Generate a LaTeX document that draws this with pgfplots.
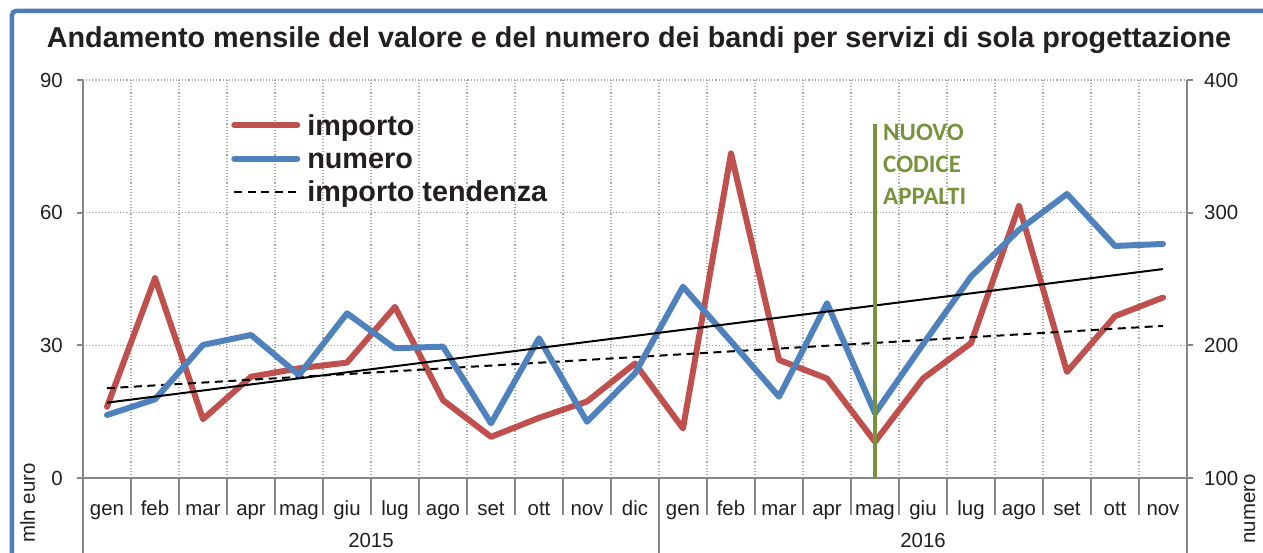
\documentclass[border=0pt]{standalone}
\usepackage{fontspec}
\setmainfont{Liberation Sans}
\newfontfamily\carlito{Carlito}
\usepackage{pgfplots}
\pgfplotsset{compat=1.18}
\definecolor{cRed}{HTML}{C0504D}
\definecolor{cBlue}{HTML}{4F81BD}
\definecolor{cGreen}{HTML}{77933C}
\definecolor{cText}{HTML}{231F20}
\definecolor{cAxis}{HTML}{868686}
\definecolor{cGrid}{HTML}{A6A6A6}
\definecolor{cFrame}{HTML}{4A7EBB}
\newcommand\ticksize{\fontsize{20.4}{24}\selectfont}
\pgfplotstableread{
x importo
0 16.1
1 45.2
2 13.3
3 22.9
4 24.8
5 26.1
6 38.7
7 17.6
8 9.3
9 13.6
10 17.3
11 25.9
12 11.2
13 73.4
14 26.7
15 22.5
16 8.2
17 22.5
18 30.5
19 61.5
20 24.0
21 36.6
22 40.8
}\importodata
\pgfplotstableread{
x numero
0 147.5
1 159.3
2 200.3
3 207.8
4 177.6
5 224.1
6 197.8
7 199.0
8 141.2
9 205.3
10 142.4
11 178.9
12 244.2
13 203.0
14 161.3
15 231.7
16 148.8
17 200.8
18 251.8
19 287.0
20 314.1
21 274.9
22 276.4
}\numerodata
\begin{document}
\begin{tikzpicture}[x=1pt,y=1pt]
\useasboundingbox (-83,-74) rectangle (1180,478);
% frame
\draw[cFrame, line width=4.5pt, rounded corners=4pt] (-71,-80) -- (-71,467) -- (1190,467);
\pgfplotsset{
  common/.style={
    at={(0,0)}, anchor=south west, scale only axis,
    width=1104pt, height=398pt,
    xmin=-0.5, xmax=22.5,
    axis line style={cAxis, line width=2.2pt},
    tick align=outside,
    major tick length=6pt,
    ytick style={cAxis, line width=2pt},
    xtick style={draw=none},
    ticklabel style={font=\ticksize, text=cText},
    /pgf/number format/assume math mode=true,
    clip=false,
  }
}
\begin{axis}[common,
  ymin=0, ymax=90,
  axis x line*=bottom, axis y line*=left,
  xtick={0,...,22},
  xticklabels={gen,feb,mar,apr,mag,giu,lug,ago,set,ott,nov,dic,gen,feb,mar,apr,mag,giu,lug,ago,set,ott,nov},
  xticklabel style={anchor=base, inner sep=0pt, yshift=-31pt},
  minor xtick={-0.5,0.5,...,22.5},
  xminorgrids,
  ytick={0,30,60,90},
  ymajorgrids,
  yticklabel style={anchor=east, inner sep=0pt, xshift=-14pt},
  grid style={cGrid, line width=1.1pt, dash pattern=on 1.1pt off 2pt},
  minor grid style={cGrid, line width=1.1pt, dash pattern=on 1.1pt off 2pt},
  legend cell align=left,
  legend style={at={(0.1314,0.917)}, anchor=north west, draw=none, fill=none,
    inner sep=0pt, row sep=4.3pt, column sep=4pt,
    font=\fontsize{28.8}{34}\selectfont\bfseries, text=cText,
    nodes={inner sep=0pt, text height=22pt, text depth=7pt}},
  legend image code/.code={\path (0pt,0pt) (69pt,0pt); \draw[#1] (3pt,2.5pt) -- (66pt,2.5pt);},
]
\addplot[cRed, line width=6pt, line join=round, line cap=round] table[x=x,y=importo]{\importodata};
\addlegendentry{importo}
\addlegendimage{cBlue, line width=6pt, line cap=round}
\addlegendentry{numero}
\addplot[black, line width=2pt, dash pattern=on 8pt off 5.5pt] coordinates {(0,20.3) (22,34.4)};
\addlegendentry{importo tendenza}
\end{axis}
\begin{axis}[common,
  ymin=100, ymax=400,
  axis x line=none, axis y line*=right,
  ytick={100,200,300,400},
  yticklabel style={anchor=west, inner sep=0pt, xshift=11pt},
]
\addplot[cBlue, line width=6pt, line join=round, line cap=round] table[x=x,y=numero]{\numerodata};
\addplot[black, line width=2pt] coordinates {(0,156.8) (22,257.5)};
\end{axis}
\begin{axis}[common, ymin=0, ymax=90, axis lines=none, xtick=\empty, ytick=\empty]
\addplot[cGreen, line width=3.5pt] coordinates {(16,0) (16,80)};
\node[anchor=north west, inner sep=0pt, xshift=8pt, align=left, text=cGreen,
  font=\carlito\bfseries\fontsize{25}{31.7}\selectfont] at (axis cs:16,80) {NUOVO\\CODICE\\APPALTI};
\end{axis}
% category separators
\foreach \i in {1,...,11,13,14,...,22} {\draw[cAxis, line width=2pt] (48*\i,0) -- (48*\i,-37);}
\foreach \i in {0,12,23} {\draw[cAxis, line width=2.2pt] (48*\i,0) -- (48*\i,-80);}
\node[anchor=base, font=\ticksize, text=cText] at (288,-69) {2015};
\node[anchor=base, font=\ticksize, text=cText] at (840,-69) {2016};
\node[anchor=base, rotate=90, font=\ticksize, text=cText] at (-48,-25) {mln euro};
\node[anchor=base, rotate=90, font=\ticksize, text=cText] at (1172,-31) {numero};
\node[anchor=base, font=\fontsize{28.8}{34}\selectfont\bfseries, text=cText] at (556,430) {Andamento mensile del valore e del numero dei bandi per servizi di sola progettazione};
\end{tikzpicture}
\end{document}
